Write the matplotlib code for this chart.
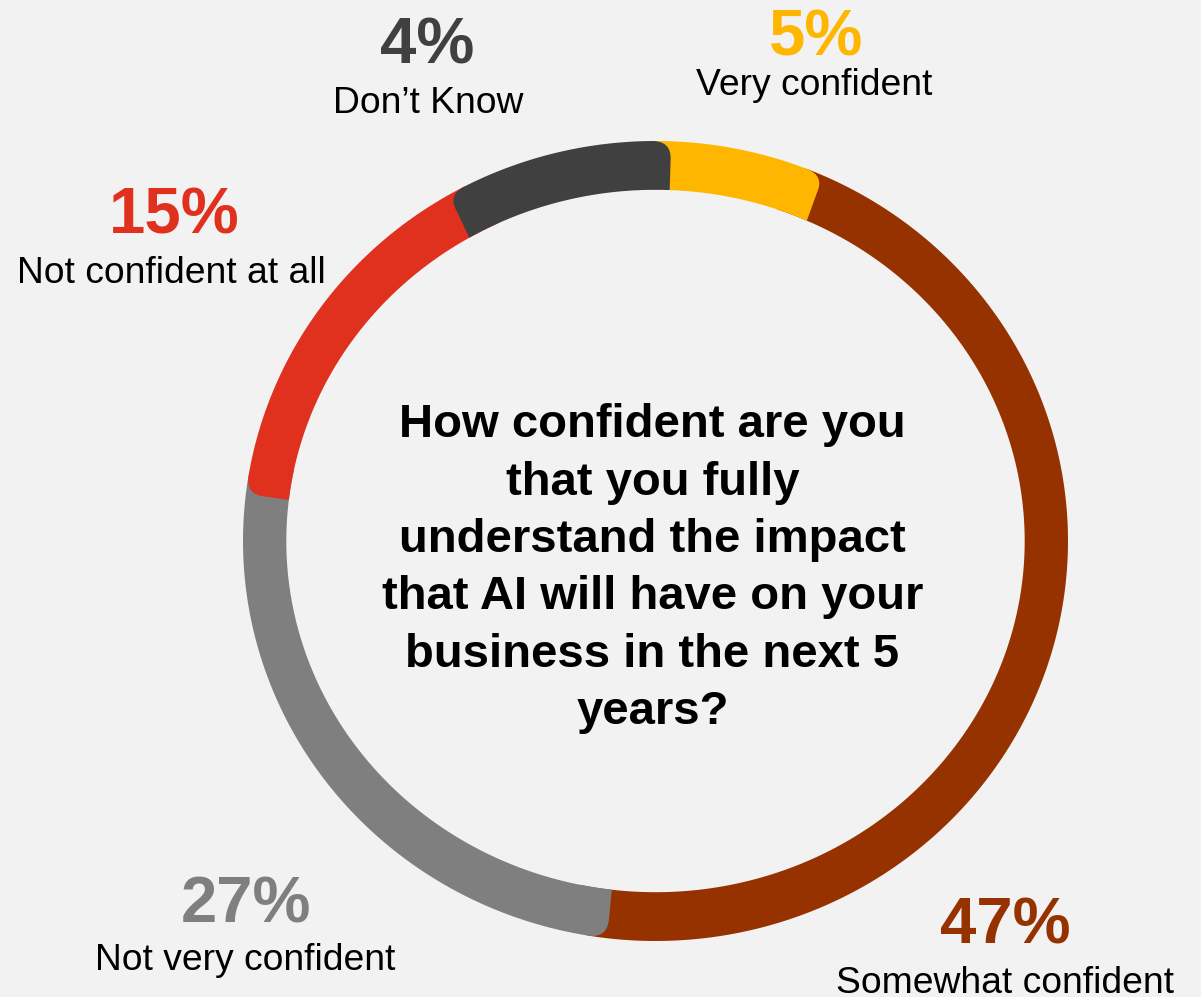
import numpy as np
import matplotlib
matplotlib.use("Agg")
import matplotlib.pyplot as plt
from matplotlib.path import Path
from matplotlib.patches import PathPatch

# ---- data ----
categories = ["Very confident", "Somewhat confident", "Not very confident",
              "Not confident at all", "Don\u2019t Know"]
percent_values = [5, 47, 27, 15, 4]
percent_labels = ["5%", "47%", "27%", "15%", "4%"]
# angular extent of each ring segment as drawn in the original (degrees)
arc_degrees = [22.0, 162.6, 89.9, 53.0, 32.5]
colors = ["#FFB600", "#963200", "#7F7F7F", "#E0301E", "#404040"]
question_lines = ["How confident are you", "that you fully",
                  "understand the impact", "that AI will have on your",
                  "business in the next 5", "years?"]

# ---- figure ----
W, H = 1201, 997
BG = "#F2F2F2"
fig = plt.figure(figsize=(W / 100, H / 100), dpi=100, facecolor=BG)
ax = fig.add_axes([0, 0, 1, 1])
ax.set_facecolor(BG)
cx, cy, rxp, ryp = 655.5, 541.0, 412.5, 400.0
ax.set_xlim((0 - cx) / rxp, (W - cx) / rxp)
ax.set_ylim((cy - H) / ryp, (cy - 0) / ryp)
ax.axis("off")

start_cw = 2.2          # clockwise offset from 12 o'clock
inner_rx, inner_ry = 0.895, 0.878
corner_ang = 2.6        # degrees
corner_rad = 0.045


def ring_segment(th_a, th_b, color, z):
    """ring wedge from math angle th_a to th_b (th_a < th_b), outer corners rounded"""
    verts, codes = [], []
    ta, tb = np.radians(th_a), np.radians(th_b)
    d = np.radians(corner_ang)
    verts.append((inner_rx * np.cos(ta), inner_ry * np.sin(ta))); codes.append(Path.MOVETO)
    verts.append(((1 - corner_rad) * np.cos(ta), (1 - corner_rad) * np.sin(ta))); codes.append(Path.LINETO)
    verts.append((np.cos(ta), np.sin(ta))); codes.append(Path.CURVE3)
    verts.append((np.cos(ta + d), np.sin(ta + d))); codes.append(Path.CURVE3)
    for t in np.linspace(ta + d, tb - d, 200)[1:]:
        verts.append((np.cos(t), np.sin(t))); codes.append(Path.LINETO)
    verts.append((np.cos(tb), np.sin(tb))); codes.append(Path.CURVE3)
    verts.append(((1 - corner_rad) * np.cos(tb), (1 - corner_rad) * np.sin(tb))); codes.append(Path.CURVE3)
    verts.append((inner_rx * np.cos(tb), inner_ry * np.sin(tb))); codes.append(Path.LINETO)
    for t in np.linspace(tb, ta, 200)[1:]:
        verts.append((inner_rx * np.cos(t), inner_ry * np.sin(t))); codes.append(Path.LINETO)
    verts.append(verts[0]); codes.append(Path.CLOSEPOLY)
    ax.add_patch(PathPatch(Path(verts, codes), facecolor=color, edgecolor="none",
                           zorder=z, antialiased=True))


# stacking order and hidden extensions (start_ext, end_ext) in clockwise sense
zorders = [2, 1, 2, 3, 4]
extensions = [(5, 0), (5, 5), (0, 5), (0, 5), (0, 0)]
bounds = np.concatenate([[0], np.cumsum(arc_degrees)]) + start_cw
for i in range(len(arc_degrees)):
    phi1 = bounds[i] - extensions[i][0]
    phi2 = bounds[i + 1] + extensions[i][1]
    ring_segment(90 - phi2, 90 - phi1, colors[i], zorders[i])

# ---- labels ----
FONT = "Liberation Sans"


def px(x, y):
    return x / W, 1 - y / H


pct_pos = [(816.5, 55), (1005.5, 943), (246, 922), (174, 233), (427.5, 64)]
cat_pos = [(814, 95), (1004.5, 993), (245, 970), (171.5, 283), (428.5, 113)]
for i in range(len(categories)):
    fig.text(*px(*pct_pos[i]), percent_labels[i], ha="center", va="baseline",
             fontsize=47, fontweight="bold", color=colors[i], family=FONT)
    fig.text(*px(*cat_pos[i]), categories[i], ha="center", va="baseline",
             fontsize=26.8, color="black", family=FONT)

q_baselines = [437, 494.5, 552, 609, 666.5, 724]
for line, yb in zip(question_lines, q_baselines):
    fig.text(*px(652.5, yb), line, ha="center", va="baseline", fontsize=34,
             fontweight="bold", color="black", family=FONT)

fig.savefig("out.png", dpi=100, facecolor=BG)
